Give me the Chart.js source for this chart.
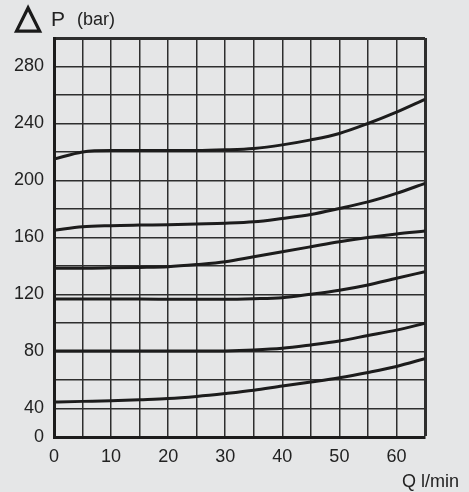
<!DOCTYPE html>
<html>
<head>
<meta charset="utf-8">
<script src="https://cdn.jsdelivr.net/npm/chart.js@4/dist/chart.umd.min.js"></script>
<style>
  html, body { margin: 0; padding: 0; background: #e5e6e7; }
  #wrap { width: 469px; height: 492px; }
</style>
</head>
<body>
<div id="wrap"><canvas id="chart" width="469" height="492"></canvas></div>
<script>
// flow Q (l/min)
const flows = [0, 5, 10, 15, 20, 25, 30, 35, 40, 45, 50, 55, 60, 65];

// pressure drop curves (bar)
const curve1 = [215, 220, 221, 221, 221, 221, 221.5, 222.5, 225, 228.5, 233, 240, 248, 257];
const curve2 = [165, 167.5, 168.3, 168.7, 169, 169.5, 170, 171, 173.4, 176.2, 180.4, 185, 191, 198];
const curve3 = [138.5, 138.5, 138.7, 139, 139.5, 141, 143, 146.5, 150, 153.5, 157, 160, 162.5, 164.5];
const curve4 = [116.8, 116.8, 116.8, 116.8, 116.7, 116.6, 116.6, 117, 117.8, 120.2, 123, 126.7, 131.4, 136];
const curve5 = [80.3, 80.3, 80.3, 80.3, 80.3, 80.3, 80.4, 81, 82.2, 84.6, 87.4, 91.2, 95, 99.8];
const curve6 = [44.5, 45, 45.5, 46.2, 47, 48.5, 50.5, 52.8, 55.8, 58.6, 61.6, 65.3, 69.5, 75];

// tick labels
const xLabels = [0, 10, 20, 30, 40, 50, 60];
const yLabels = [280, 240, 200, 160, 120, 80, 40];

const bg = '#e5e6e7';
const ink = '#1c1c1c';
const gridInk = '#2e2e2e';
const font = "'Liberation Sans', Arial, sans-serif";

const series = [curve1, curve2, curve3, curve4, curve5, curve6];

// фон и подписи осей
const decor = {
    id: 'decor',
    beforeDraw(chart) {
        const ctx = chart.ctx;
        ctx.save();
        ctx.fillStyle = bg;
        ctx.fillRect(0, 0, chart.width, chart.height);
        ctx.restore();
    },
    afterDraw(chart) {
        const ctx = chart.ctx;
        ctx.save();
        ctx.fillStyle = '#1a1a1a';
        ctx.strokeStyle = '#1a1a1a';
        ctx.textBaseline = 'alphabetic';
        ctx.textAlign = 'left';
        ctx.font = "34px 'DejaVu Sans', sans-serif";
        ctx.lineWidth = 1.5;
        ctx.fillText('△', 15, 28);
        ctx.strokeText('△', 15, 28);
        ctx.fillStyle = '#222';
        ctx.font = '21px ' + font;
        ctx.fillText('P', 51, 26);
        ctx.font = '18px ' + font;
        ctx.fillText('(bar)', 77, 25);
        ctx.textAlign = 'right';
        ctx.fillText('Q l/min', 459, 487);
        ctx.restore();
    }
};

new Chart(document.getElementById('chart').getContext('2d'), {
    type: 'line',
    data: {
        datasets: series.map(function (s) {
            return {
                data: s.map(function (v, i) { return { x: flows[i], y: v }; }),
                borderColor: ink,
                borderWidth: 3,
                pointRadius: 0,
                fill: false,
                cubicInterpolationMode: 'monotone'
            };
        })
    },
    options: {
        responsive: false,
        animation: false,
        devicePixelRatio: 1,
        layout: { padding: { left: 0, top: 38, right: 44, bottom: 0 } },
        plugins: { legend: { display: false }, tooltip: { enabled: false } },
        scales: {
            x: {
                type: 'linear',
                min: 0,
                max: 65,
                afterFit: function (scale) { scale.height = 55; },
                ticks: {
                    stepSize: 5,
                    autoSkip: false,
                    maxRotation: 0,
                    padding: 9,
                    color: '#222',
                    font: { family: font, size: 18 },
                    callback: function (v) { return xLabels.includes(v) ? String(v) : ''; }
                },
                grid: {
                    drawTicks: false,
                    color: gridInk,
                    lineWidth: function (c) { return c.tick && c.tick.value === 65 ? 3 : 1.5; }
                },
                border: { color: ink, width: 3 }
            },
            y: {
                type: 'linear',
                min: 20,
                max: 300,
                afterFit: function (scale) { scale.width = 54; },
                ticks: {
                    stepSize: 20,
                    autoSkip: false,
                    padding: 10,
                    color: '#222',
                    font: { family: font, size: 18 },
                    // нижняя клетка сжата: линия 20 подписана как 0
                    callback: function (v) {
                        if (v === 20) return '0';
                        return yLabels.includes(v) ? String(v) : '';
                    }
                },
                grid: {
                    drawTicks: false,
                    color: gridInk,
                    lineWidth: function (c) { return c.tick && c.tick.value === 300 ? 3 : 1.5; }
                },
                border: { color: ink, width: 3 }
            }
        }
    },
    plugins: [decor]
});
</script>
</body>
</html>
